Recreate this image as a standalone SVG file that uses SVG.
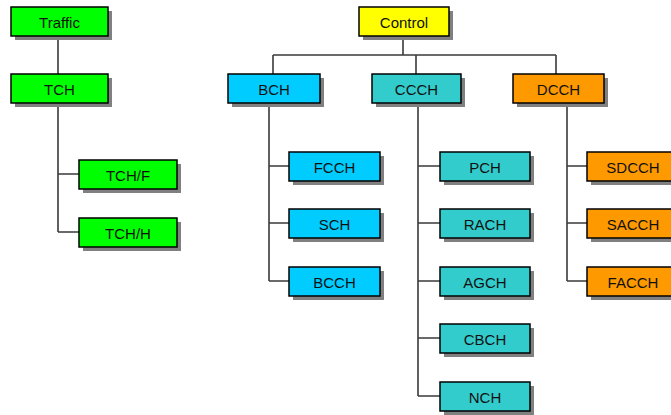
<svg xmlns="http://www.w3.org/2000/svg" width="671" height="415" viewBox="0 0 671 415">
<style>
.sh{fill:#808080}
.b{stroke:#000;stroke-width:1.5}
.g{fill:#00ff00}.y{fill:#ffff00}.c{fill:#00ccff}.t{fill:#33cccc}.o{fill:#ff9900}
text{font-family:"Liberation Sans",Arial,sans-serif;font-size:15px;text-anchor:middle;fill:#111}
.ln{stroke:#3a3a3a;stroke-width:1.6;fill:none}
</style>
<rect width="671" height="415" fill="#fff"/>
<g id="connectors">
<path class="ln" d="M58 36V74M58 103V232M58 174H79M58 232H79"/>
<path class="ln" d="M403 36V55M273 55H556M273 55V74M416 55V74M556 55V74"/>
<path class="ln" d="M269 103V281M269 166H289M269 223H289M269 281H289"/>
<path class="ln" d="M418 103V396M418 166H440M418 223H440M418 281H440M418 338H440M418 396H440"/>
<path class="ln" d="M567 103V281M567 166H587M567 223H587M567 281H587"/>
</g>
<g id="traffic"><rect class="sh" x="15" y="11" width="97" height="29"/><rect class="b g" x="11" y="7" width="97" height="29"/><text x="59.5" y="28">Traffic</text></g>
<g id="tch"><rect class="sh" x="15" y="78" width="97" height="29"/><rect class="b g" x="11" y="74" width="97" height="29"/><text x="59.5" y="95">TCH</text></g>
<g id="tchf"><rect class="sh" x="83" y="164" width="98" height="29"/><rect class="b g" x="79" y="160" width="98" height="29"/><text x="128" y="181">TCH/F</text></g>
<g id="tchh"><rect class="sh" x="83" y="222" width="98" height="29"/><rect class="b g" x="79" y="218" width="98" height="29"/><text x="128" y="239">TCH/H</text></g>
<g id="control"><rect class="sh" x="363" y="11" width="90" height="29"/><rect class="b y" x="359" y="7" width="90" height="29"/><text x="404" y="28">Control</text></g>
<g id="bch"><rect class="sh" x="232" y="78" width="92" height="29"/><rect class="b c" x="228" y="74" width="92" height="29"/><text x="274" y="95">BCH</text></g>
<g id="ccch"><rect class="sh" x="376" y="78" width="89" height="29"/><rect class="b t" x="372" y="74" width="89" height="29"/><text x="416.5" y="95">CCCH</text></g>
<g id="dcch"><rect class="sh" x="517" y="78" width="91" height="29"/><rect class="b o" x="513" y="74" width="91" height="29"/><text x="558.5" y="95">DCCH</text></g>
<g id="fcch"><rect class="sh" x="293" y="156" width="91" height="29"/><rect class="b c" x="289" y="152" width="91" height="29"/><text x="334.5" y="173">FCCH</text></g>
<g id="sch"><rect class="sh" x="293" y="213" width="91" height="29"/><rect class="b c" x="289" y="209" width="91" height="29"/><text x="334.5" y="230">SCH</text></g>
<g id="bcch"><rect class="sh" x="293" y="271" width="91" height="29"/><rect class="b c" x="289" y="267" width="91" height="29"/><text x="334.5" y="288">BCCH</text></g>
<g id="pch"><rect class="sh" x="444" y="156" width="90" height="29"/><rect class="b t" x="440" y="152" width="90" height="29"/><text x="485" y="173">PCH</text></g>
<g id="rach"><rect class="sh" x="444" y="213" width="90" height="29"/><rect class="b t" x="440" y="209" width="90" height="29"/><text x="485" y="230">RACH</text></g>
<g id="agch"><rect class="sh" x="444" y="271" width="90" height="29"/><rect class="b t" x="440" y="267" width="90" height="29"/><text x="485" y="288">AGCH</text></g>
<g id="cbch"><rect class="sh" x="444" y="328" width="90" height="29"/><rect class="b t" x="440" y="324" width="90" height="29"/><text x="485" y="345">CBCH</text></g>
<g id="nch"><rect class="sh" x="444" y="386" width="90" height="29"/><rect class="b t" x="440" y="382" width="90" height="29"/><text x="485" y="403">NCH</text></g>
<g id="sdcch"><rect class="sh" x="591" y="156" width="92" height="29"/><rect class="b o" x="587" y="152" width="92" height="29"/><text x="633" y="173">SDCCH</text></g>
<g id="sacch"><rect class="sh" x="591" y="213" width="92" height="29"/><rect class="b o" x="587" y="209" width="92" height="29"/><text x="633" y="230">SACCH</text></g>
<g id="facch"><rect class="sh" x="591" y="271" width="92" height="29"/><rect class="b o" x="587" y="267" width="92" height="29"/><text x="633" y="288">FACCH</text></g>
</svg>
